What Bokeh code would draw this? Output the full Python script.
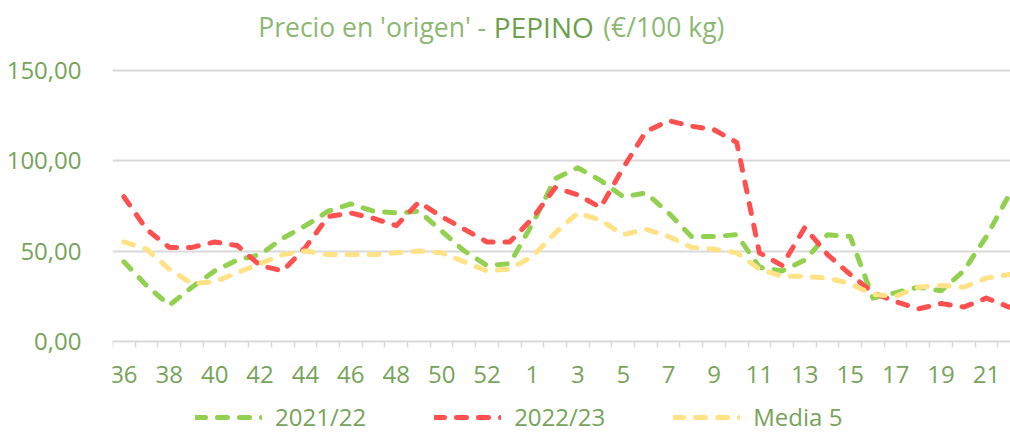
from bokeh.plotting import figure
from bokeh.models import (Range1d, FixedTicker, Legend, LegendItem, Label)
from bokeh.embed import file_html
from bokeh.resources import INLINE

# ---- data ----
weeks = [36, 37, 38, 39, 40, 41, 42, 43, 44, 45, 46, 47, 48, 49, 50, 51, 52, 53,
         1, 2, 3, 4, 5, 6, 7, 8, 9, 10, 11, 12, 13, 14, 15, 16, 17, 18, 19, 20, 21, 22]
s2122 = [44, 31, 20, 30, 39, 45, 48, 57, 64, 72, 76, 72, 71, 72, 61, 50, 42, 43,
         65, 90, 96, 89, 80, 82, 71, 58, 58, 59, 41, 39, 45, 59, 58, 24, 27, 30, 28, 39, 58, 81]
s2223 = [80, 62, 52, 52, 55, 53, 42, 39, 52, 69, 71, 68, 64, 77, 69, 62, 55, 55,
         68, 85, 81, 74, 96, 116, 122, 119, 117, 110, 49, 42, 63, 48, 37, 27, 22, 18, 21, 19, 24, 19]
media5 = [55, 51, 40, 32, 33, 38, 43, 48, 50, 48, 48, 48, 49, 50, 49, 44, 39, 40,
          47, 60, 71, 67, 59, 62, 58, 52, 51, 49, 40, 36, 36, 35, 32, 26, 25, 30, 31, 30, 35, 37]
series_names = ["2021/22", "2022/23", "Media 5"]
y_ticks = [0, 50, 100, 150]
y_tick_labels = ["0,00", "50,00", "100,00", "150,00"]

colors = ["#92D050", "#FF5050", "#FFE285"]
txt_green = "#77A35A"
FONT = "Open Sans"

x = list(range(len(weeks)))

p = figure(width=1010, height=433, output_backend="svg", toolbar_location=None,
           x_range=Range1d(-0.5, 39.06), y_range=Range1d(-50.83, 188.4),
           min_border_left=112, min_border_right=0, min_border_top=0,
           min_border_bottom=0)
p.outline_line_color = None
p.background_fill_color = "white"
p.border_fill_color = "white"

renderers = []
for ys, c in zip([s2122, s2223, media5], colors):
    r = p.line(x, ys, line_color=c, line_width=5, line_dash="10 12",
               line_cap="round", line_join="round")
    renderers.append(r)

# x axis (drawn at y = 0 inside the frame)
xa = p.xaxis[0]
xa.fixed_location = 0
xa.ticker = FixedTicker(ticks=[i for i in x if i % 2 == 0],
                        minor_ticks=[i - 0.5 for i in range(len(weeks) + 1)])
xa.major_label_overrides = {i: str(w) for i, w in enumerate(weeks) if i % 2 == 0}
xa.major_tick_line_color = None
xa.major_tick_in = 0
xa.major_tick_out = 0
xa.minor_tick_in = 0
xa.minor_tick_out = 6
xa.minor_tick_line_color = "#D9D9D9"
xa.minor_tick_line_width = 1.5
xa.axis_line_color = "#D9D9D9"
xa.axis_line_width = 2
xa.major_label_text_font = FONT
xa.major_label_text_font_size = "24px"
xa.major_label_text_color = txt_green
xa.major_label_standoff = 19

# y axis
ya = p.yaxis[0]
ya.ticker = FixedTicker(ticks=y_ticks)
ya.major_label_overrides = dict(zip(y_ticks, y_tick_labels))
ya.axis_line_color = None
ya.major_tick_line_color = None
ya.minor_tick_line_color = None
ya.major_label_text_font = FONT
ya.major_label_text_font_size = "24px"
ya.major_label_text_color = txt_green
ya.major_label_standoff = 25

p.xgrid.grid_line_color = None
p.ygrid.grid_line_color = "#D9D9D9"
p.ygrid.grid_line_width = 2
p.ygrid.ticker = FixedTicker(ticks=y_ticks[1:])

# title (three parts)
ty = 173.9
p.add_layout(Label(x=15.96, y=ty, text="Precio en 'origen' -", text_align="right",
                   text_baseline="alphabetic", text_font=FONT, text_font_size="26.5px",
                   text_color="#8DB873"))
p.add_layout(Label(x=18.50, y=ty, text="PEPINO", text_align="center",
                   text_baseline="alphabetic", text_font=FONT, text_font_size="28px",
                   text_color="#6E9F4E"))
p.add_layout(Label(x=21.12, y=ty, text="(€/100 kg)", text_align="left",
                   text_baseline="alphabetic", text_font=FONT, text_font_size="26.5px",
                   text_color="#8DB873"))

legend = Legend(items=[LegendItem(label=n, renderers=[r]) for n, r in zip(series_names, renderers)],
                orientation="horizontal", location=(83, 0),
                glyph_width=67, glyph_height=24, label_height=24, label_standoff=13,
                spacing=68, padding=0, margin=0, border_line_color=None,
                background_fill_alpha=0, label_text_font=FONT,
                label_text_font_size="24px", label_text_color=txt_green)
p.add_layout(legend, "center")

open("out.html", "w").write(file_html(p, INLINE))
